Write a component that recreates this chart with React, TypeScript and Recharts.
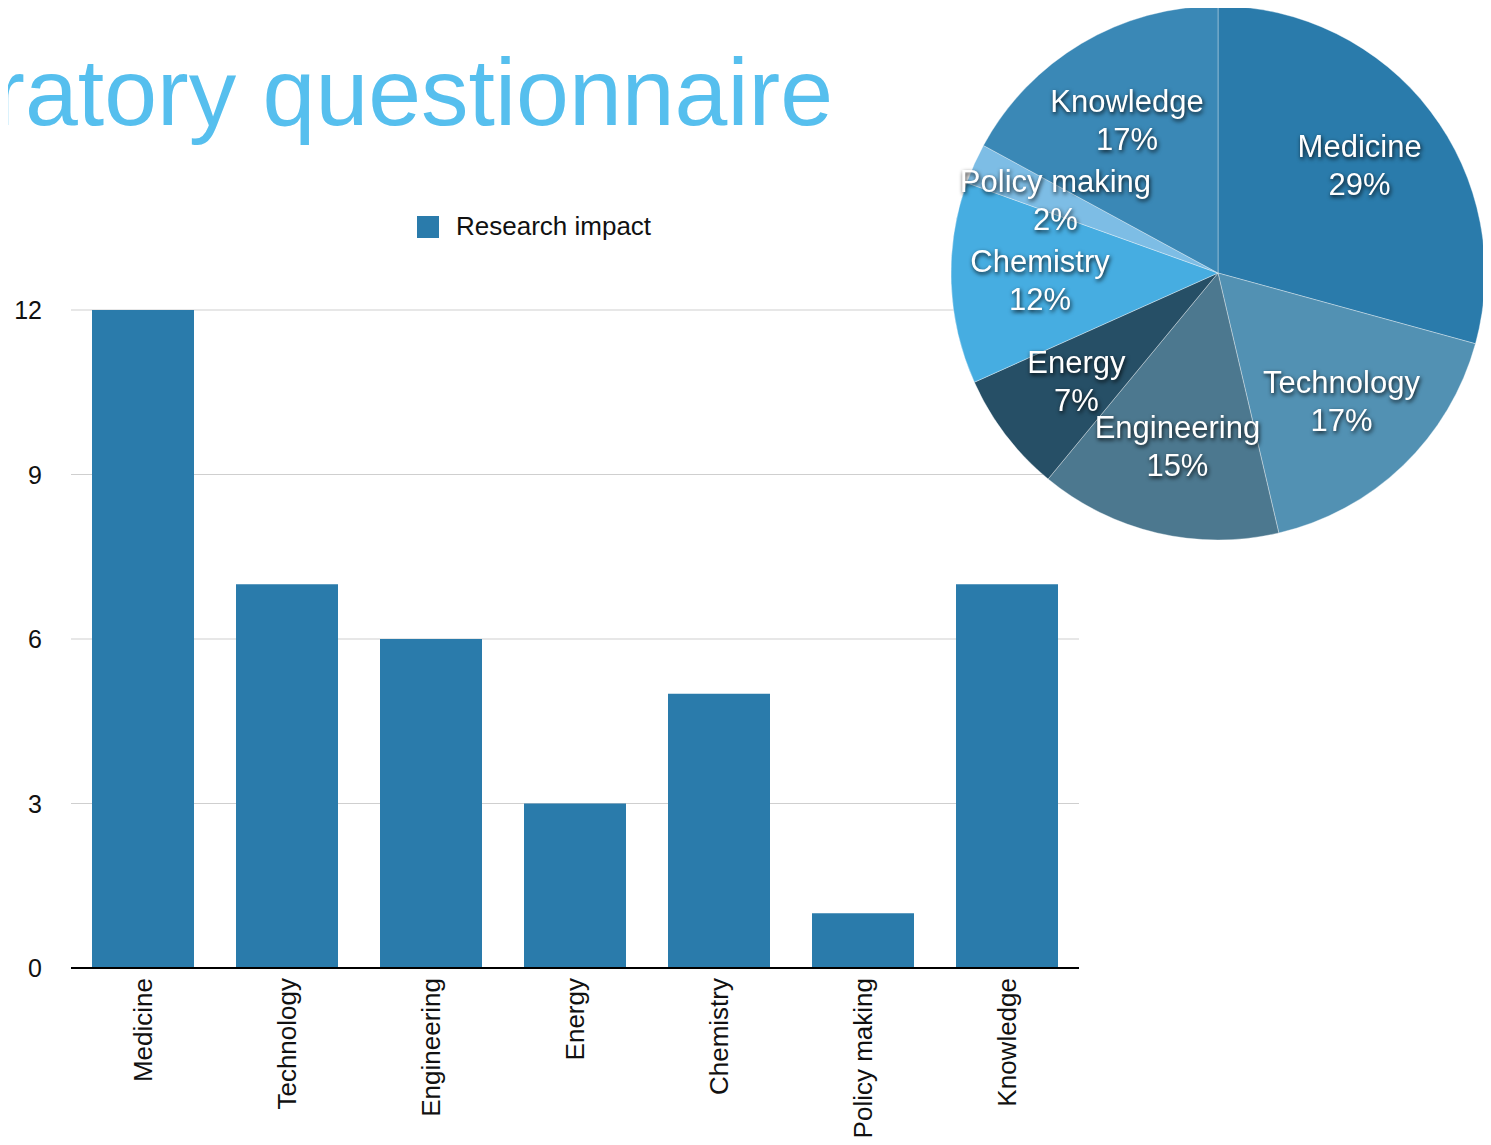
import React from 'react';
import { BarChart, Bar, XAxis, YAxis, CartesianGrid, Legend, PieChart, Pie, Cell } from 'recharts';

const categories = ['Medicine', 'Technology', 'Engineering', 'Energy', 'Chemistry', 'Policy making', 'Knowledge'];
const researchImpact = [12, 7, 6, 3, 5, 1, 7];
const yTicks = [0, 3, 6, 9, 12];
const seriesName = 'Research impact';
const titleText = 'ratory questionnaire';
const pieColors = ['#2a7bab', '#5291b3', '#4c788f', '#264f66', '#46ade1', '#7dbde5', '#3a88b6'];

const barData = categories.map((c, i) => ({ name: c, value: researchImpact[i] }));
const pieData = categories.map((c, i) => ({ name: c, value: researchImpact[i] }));

const FONT = '"Liberation Sans", Arial, Helvetica, sans-serif';
const RAD = Math.PI / 180;

const XTick = (props: any) => {
  const { x, y, payload } = props;
  return (
    <text
      x={x}
      y={y}
      transform={`rotate(-90, ${x}, ${y})`}
      textAnchor="end"
      dominantBaseline="central"
      fontSize={26}
      fill="#111"
      fontFamily={FONT}
    >
      {payload.value}
    </text>
  );
};

const YTick = (props: any) => {
  const { x, y, payload } = props;
  return (
    <text x={x} y={y} textAnchor="end" dominantBaseline="central" fontSize={25} fill="#111" fontFamily={FONT}>
      {payload.value}
    </text>
  );
};

const LegendContent = () => (
  <div style={{ display: 'flex', alignItems: 'center', fontFamily: FONT, fontSize: 26, color: '#111' }}>
    <span style={{ display: 'inline-block', width: 22, height: 22, background: '#2a7bab', marginRight: 17 }} />
    <span>{seriesName}</span>
  </div>
);

const renderPieLabel = (props: any) => {
  const { cx, cy, midAngle, outerRadius, percent, name } = props;
  const r = outerRadius * 0.667;
  const x = cx + r * Math.cos(-midAngle * RAD);
  const y = cy + r * Math.sin(-midAngle * RAD);
  return (
    <text
      x={x}
      y={y}
      textAnchor="middle"
      fill="#ffffff"
      fontSize={31}
      fontFamily={FONT}
      style={{ filter: 'drop-shadow(1px 2px 2px rgba(0,0,0,0.85))' }}
    >
      <tspan x={x} dy={-8}>{name}</tspan>
      <tspan x={x} dy={38}>{`${Math.round(percent * 100)}%`}</tspan>
    </text>
  );
};

export default function App() {
  return (
    <div style={{ position: 'relative', width: 1491, height: 1145, margin: -8, overflow: 'hidden', background: '#fff' }}>
      <svg style={{ position: 'absolute', left: 0, top: 0 }} width={900} height={160}>
        <text x={833} y={125} textAnchor="end" fontSize={95} fill="#56bfee" fontFamily={FONT}>
          {titleText}
        </text>
      </svg>
      <div style={{ position: 'absolute', left: 0, top: 0 }}>
        <BarChart
          width={1100}
          height={1145}
          data={barData}
          margin={{ top: 310, right: 21, bottom: 0, left: 0 }}
          barCategoryGap={21}
        >
          <CartesianGrid vertical={false} stroke="#cfcfcf" strokeWidth={1} />
          <XAxis
            dataKey="name"
            interval={0}
            height={177}
            axisLine={{ stroke: '#000', strokeWidth: 2 }}
            tickLine={false}
            tickSize={0}
            tickMargin={10}
            tick={<XTick />}
          />
          <YAxis
            width={71}
            domain={[0, 12]}
            ticks={yTicks}
            axisLine={false}
            tickLine={false}
            tickSize={0}
            tickMargin={29}
            tick={<YTick />}
          />
          <Legend
            layout="horizontal"
            verticalAlign="middle"
            align="center"
            content={<LegendContent />}
            wrapperStyle={{ position: 'absolute', left: 417, top: 211, width: 'auto' }}
          />
          <Bar dataKey="value" name={seriesName} fill="#2a7bab" isAnimationActive={false} />
        </BarChart>
      </div>
      <div style={{ position: 'absolute', left: 938, top: 0 }}>
        <PieChart width={553} height={560} margin={{ top: 0, right: 0, bottom: 0, left: 0 }}>
          <Pie
            data={pieData}
            dataKey="value"
            nameKey="name"
            cx={280}
            cy={273}
            outerRadius={267}
            startAngle={90}
            endAngle={-270}
            stroke="rgba(255,255,255,0.35)"
            strokeWidth={1}
            label={renderPieLabel}
            labelLine={false}
            isAnimationActive={false}
          >
            {pieData.map((d, i) => (
              <Cell key={d.name} fill={pieColors[i]} />
            ))}
          </Pie>
        </PieChart>
      </div>
    </div>
  );
}
